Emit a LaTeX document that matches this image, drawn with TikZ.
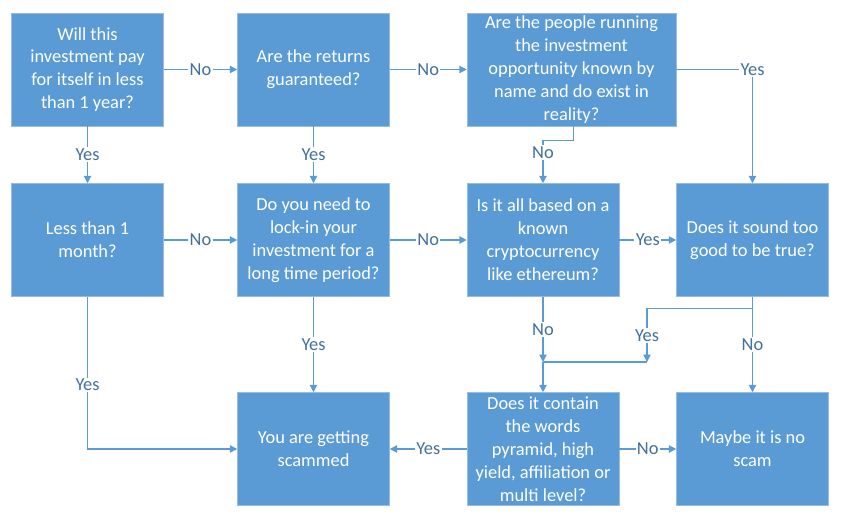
\documentclass[tikz,border=0pt]{standalone}
\usepackage{fontspec}
\setmainfont{Carlito}
\usepackage{tikz}
\usetikzlibrary{arrows.meta}

\definecolor{boxblue}{RGB}{91,155,213}
\definecolor{edgeblue}{RGB}{150,188,228}
\definecolor{lblblue}{RGB}{65,113,156}

\tikzset{
    qbox/.style={draw=edgeblue, line width=0.4pt, fill=boxblue, text=white, minimum width=114pt, minimum height=84.75pt, align=center, inner sep=2pt, font=\fontsize{13.8}{17.2}\selectfont},
    conn/.style={draw=boxblue, line width=0.9pt, -{Triangle[length=5.5pt,width=5.5pt]}},
    lbl/.style={fill=white, text=lblblue, inner sep=1pt, font=\fontsize{13.8}{17.2}\selectfont}
}

\begin{document}
\begin{tikzpicture}[x=0.75pt,y=0.75pt,yscale=-1,xscale=1]
    \useasboundingbox (0,0) rectangle (843,520);

    % questions
    \node [qbox] (payback) at (87.5,69.5) {Will this\\investment pay\\for itself in less\\than 1 year?};
    \node [qbox] (guarant) at (313.5,69.5) {Are the returns\\guaranteed?};
    \node [qbox, minimum width=156.75pt] (people) at (571.5,69.5) {Are the people running\\the investment\\opportunity known by\\name and do exist in\\reality?};
    \node [qbox] (month) at (87.5,240) {Less than 1\\month?};
    \node [qbox] (lockin) at (313.5,240) {Do you need to\\lock-in your\\investment for a\\long time period?};
    \node [qbox] (crypto) at (543,240) {Is it all based on a\\known\\cryptocurrency\\like ethereum?};
    \node [qbox] (toogood) at (752.5,240) {Does it sound too\\good to be true?};
    \node [qbox] (scammed) at (313.5,449) {You are getting\\scammed};
    \node [qbox] (words) at (543,449) {Does it contain\\the words\\pyramid, high\\yield, affiliation or\\multi level?};
    \node [qbox] (noscam) at (752.5,449) {Maybe it is no\\scam};

    % junctions above the words box
    \coordinate (jn) at (543,362);
    \coordinate (jy) at (647,362);

    % connectors
    \draw [conn] (payback) -- node [lbl] {No} (guarant);
    \draw [conn] (guarant) -- node [lbl] {No} (people);
    \draw [conn] (payback) -- node [lbl] {Yes} (month);
    \draw [conn] (guarant) -- node [lbl] {Yes} (lockin);
    \draw [conn] (people.east) -| node [lbl, pos=0.5] {Yes} (toogood.north);
    \draw [conn] ([xshift=1.5]people.south) -- ++(0,14) -| node [lbl, pos=0.64] {No} (crypto.north);
    \draw [conn] (month) -- node [lbl] {No} (lockin);
    \draw [conn] (lockin) -- node [lbl] {No} (crypto);
    \draw [conn] (crypto) -- node [lbl] {Yes} (toogood);
    \draw [conn] (month.south) |- node [lbl, pos=0.29] {Yes} (scammed.west);
    \draw [conn] (lockin) -- node [lbl] {Yes} (scammed);
    \draw [conn] (crypto.south) -- node [lbl] {No} (jn);
    \draw [conn] (toogood.south) -- ++(0,12) -| node [lbl, pos=0.75] {Yes} (jy);
    \draw [conn, -] (jy) -- (jn);
    \draw [conn] (jn) -- (words.north);
    \draw [conn] (toogood) -- node [lbl] {No} (noscam);
    \draw [conn] (words) -- node [lbl] {Yes} (scammed);
    \draw [conn] (words) -- node [lbl] {No} (noscam);

\end{tikzpicture}
\end{document}
